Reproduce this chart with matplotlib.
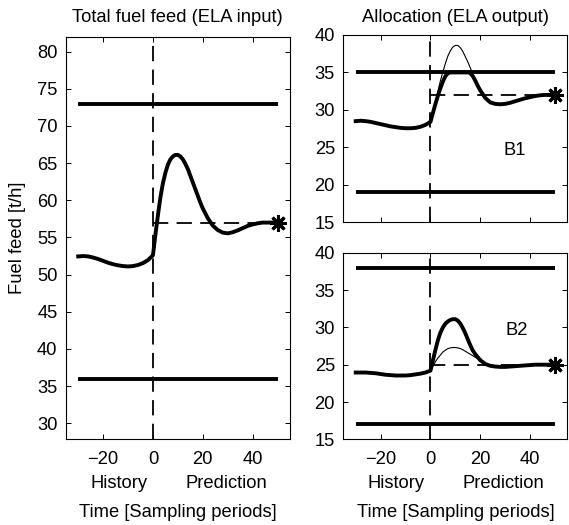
import numpy as np
import matplotlib
matplotlib.use("Agg")
import matplotlib.pyplot as plt
from matplotlib.transforms import blended_transform_factory

plt.rcParams['font.family'] = ['Liberation Sans', 'DejaVu Sans']
plt.rcParams['font.size'] = 13.2
plt.rcParams['axes.titlesize'] = 13.2
plt.rcParams['lines.scale_dashes'] = False

# time axis (sampling periods), history -30..0, prediction 0..50
t_hist = [-30, -28, -26, -24, -22, -20, -18, -16, -14, -12, -10, -8, -6, -4, -2, 0]
t_pred = [0, 1, 2, 3, 4, 5, 6, 7, 8, 9, 10, 11, 12, 13, 14, 15, 16, 17, 18, 19, 20,
          22, 24, 26, 28, 30, 32, 34, 36, 38, 40, 42, 44, 46, 48, 50]

# total fuel feed [t/h]
total_hist = [52.45, 52.5, 52.45, 52.3, 52.1, 51.85, 51.6, 51.4, 51.25, 51.15, 51.1, 51.15, 51.3, 51.55, 51.95, 52.6]
total_pred = [52.6, 55.4, 58.0, 60.4, 62.3, 63.7, 64.8, 65.5, 65.9, 66.1, 66.1, 65.9, 65.5, 64.9, 64.2,
              63.3, 62.4, 61.5, 60.6, 59.7, 58.9, 57.6, 56.6, 56.0, 55.65,
              55.55, 55.7, 55.95, 56.25, 56.55, 56.75, 56.9, 57.0, 57.0, 57.0, 57.0]
total_set = 57
total_lim = [36, 73]

# boiler B1
b1_hist = [28.5, 28.55, 28.5, 28.4, 28.25, 28.1, 27.95, 27.8, 27.7, 27.6, 27.55, 27.55, 27.6, 27.75, 28.0, 28.4]
b1_pred = [28.4, 29.6, 30.8, 31.9, 32.9, 33.8, 34.5, 34.9, 35.0, 35.0, 35.0, 35.0, 35.0, 35.0, 35.0,
           35.0, 34.9, 34.5, 33.9, 33.2, 32.6, 31.6, 31.0, 30.8, 30.75,
           30.8, 30.95, 31.15, 31.35, 31.55, 31.7, 31.85, 31.95, 32.0, 32.0, 32.0]
b1_free = [28.4, 29.7, 31.1, 32.5, 33.9, 35.1, 36.2, 37.2, 37.9, 38.4, 38.6, 38.6, 38.3, 37.8, 37.1,
           36.4, 35.6, 34.8, 34.0, 33.2, 32.6, 31.6, 31.0, 30.8, 30.75,
           30.8, 30.95, 31.15, 31.35, 31.55, 31.7, 31.85, 31.95, 32.0, 32.0, 32.0]
b1_set = 32
b1_lim = [19, 35]

# boiler B2
b2_hist = [23.95, 23.95, 23.95, 23.9, 23.85, 23.75, 23.65, 23.6, 23.55, 23.55, 23.55, 23.6, 23.7, 23.8, 23.95, 24.2]
b2_pred = [24.2, 25.6, 27.0, 28.3, 29.3, 30.0, 30.5, 30.8, 31.0, 31.1, 31.1, 30.9, 30.5, 29.9, 29.2,
           28.4, 27.6, 26.9, 26.4, 26.0, 25.6, 25.1, 24.85, 24.75, 24.7,
           24.7, 24.75, 24.8, 24.85, 24.9, 24.95, 25.0, 25.0, 25.0, 25.0, 25.0]
b2_free = [24.2, 24.8, 25.4, 25.9, 26.3, 26.7, 26.95, 27.15, 27.25, 27.3, 27.3, 27.25, 27.15, 27.0, 26.8,
           26.6, 26.4, 26.2, 26.0, 25.8, 25.6, 25.1, 24.85, 24.75, 24.7,
           24.7, 24.75, 24.8, 24.85, 24.9, 24.95, 25.0, 25.0, 25.0, 25.0, 25.0]
b2_set = 25
b2_lim = [17, 38]

THICK = 2.8
DASH = (0, (11, 6))
star = (8, 2, 0)

fig = plt.figure(figsize=(5.69, 5.25), dpi=100)
ax1 = fig.add_axes([0.1155, 0.1632, 0.3942, 0.7669])
ax2 = fig.add_axes([0.6033, 0.5766, 0.3940, 0.3568])
ax3 = fig.add_axes([0.6033, 0.1632, 0.3940, 0.3554])


def draw_panel(ax, hist, pred, free, setp, lim, ylim, yticks):
    for v in lim:
        ax.plot([t_hist[0], t_pred[-1]], [v, v], color='black', lw=THICK, solid_capstyle='butt')
    ax.plot([0, 0], ylim, color='black', lw=1.3, linestyle=DASH)
    ax.plot([0, t_pred[-1]], [setp, setp], color='black', lw=1.3, linestyle=DASH)
    if free is not None:
        ax.plot(t_pred, free, color='black', lw=0.8)
    ax.plot(t_hist + t_pred[1:], hist + pred[1:], color='black', lw=THICK,
            solid_joinstyle='round')
    ax.plot([t_pred[-1]], [setp], marker=star, markersize=12, markeredgewidth=2.2,
            color='black', clip_on=False)
    ax.set_xlim(-35, 55)
    ax.set_ylim(*ylim)
    ax.set_xticks([-20, 0, 20, 40])
    ax.set_yticks(yticks)
    ax.tick_params(direction='in', top=True, right=True, length=3.5, width=0.7)
    ax.tick_params(axis='y', pad=6)
    ax.tick_params(axis='x', pad=8.5)
    for s in ax.spines.values():
        s.set_linewidth(0.8)


draw_panel(ax1, total_hist, total_pred, None, total_set, total_lim, (27.85, 82), range(30, 81, 5))
draw_panel(ax2, b1_hist, b1_pred, b1_free, b1_set, b1_lim, (15, 40), range(15, 41, 5))
draw_panel(ax3, b2_hist, b2_pred, b2_free, b2_set, b2_lim, (15, 40), range(15, 41, 5))

ax2.set_xticklabels([])
ax1.set_title("Total fuel feed (ELA input)", pad=10.8)
ax2.set_title("Allocation (ELA output)", pad=9.6)
ax1.set_ylabel("Fuel feed [t/h]", va='center')
ax1.yaxis.set_label_coords(-0.215, 0.5)

ax2.text(34, 24.6, "B1", ha='center', va='center')
ax3.text(34.7, 29.6, "B2", ha='center', va='center')

for ax in (ax1, ax3):
    tr = blended_transform_factory(ax.transData, fig.transFigure)
    ax.text(-13.7, 0.0781, "History", transform=tr, ha='center', va='center')
    ax.text(29.3, 0.0781, "Prediction", transform=tr, ha='center', va='center')
    ax.text(10, 0.0229, "Time [Sampling periods]", transform=tr, ha='center', va='center')

fig.savefig("out.png", dpi=100)
